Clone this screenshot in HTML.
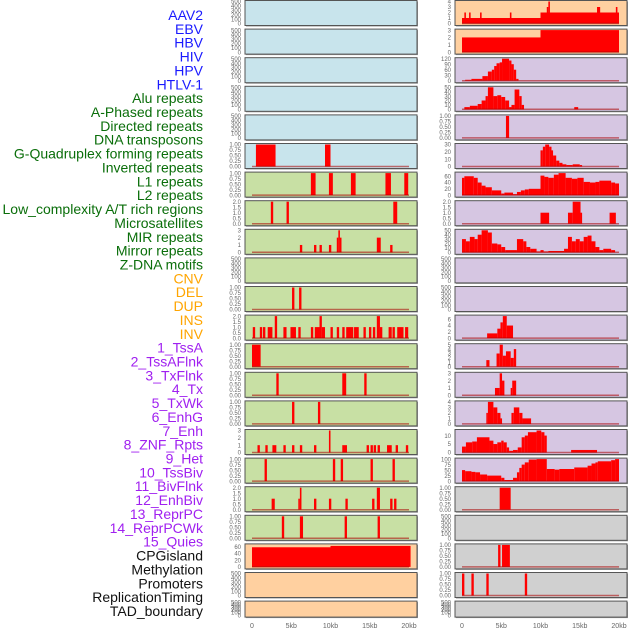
<!DOCTYPE html>
<html><head><meta charset="utf-8"><style>
html,body{margin:0;padding:0;background:#fff}
svg{display:block}
text{font-family:"Liberation Sans",sans-serif}
</style></head><body>
<svg id="chart" width="630" height="630" xmlns="http://www.w3.org/2000/svg"></svg>
<script>
// ---- labels ----
const trackLabels = ["AAV2","EBV","HBV","HIV","HPV","HTLV-1","Alu repeats","A-Phased repeats","Directed repeats","DNA transposons","G-Quadruplex forming repeats","Inverted repeats","L1 repeats","L2 repeats","Low_complexity A/T rich regions","Microsatellites","MIR repeats","Mirror repeats","Z-DNA motifs","CNV","DEL","DUP","INS","INV","1_TssA","2_TssAFlnk","3_TxFlnk","4_Tx","5_TxWk","6_EnhG","7_Enh","8_ZNF_Rpts","9_Het","10_TssBiv","11_BivFlnk","12_EnhBiv","13_ReprPC","14_ReprPCWk","15_Quies","CPGisland","Methylation","Promoters","ReplicationTiming","TAD_boundary"];
const labelColors = ["#1a1aff","#1a1aff","#1a1aff","#1a1aff","#1a1aff","#1a1aff","#0a6e0a","#0a6e0a","#0a6e0a","#0a6e0a","#0a6e0a","#0a6e0a","#0a6e0a","#0a6e0a","#0a6e0a","#0a6e0a","#0a6e0a","#0a6e0a","#0a6e0a","#ffa500","#ffa500","#ffa500","#ffa500","#ffa500","#a020f0","#a020f0","#a020f0","#a020f0","#a020f0","#a020f0","#a020f0","#a020f0","#a020f0","#a020f0","#a020f0","#a020f0","#a020f0","#a020f0","#a020f0","#111","#111","#111","#111","#111"];
const xTickValues = [0,5,10,15,20];
const xTickLabels = ["0","5kb","10kb","15kb","20kb"];

// ---- tick sets ----
const tEmpty = [0,100,200,300,400,500];
const tUnit = [0,0.25,0.5,0.75,1];
const tUnitLbl = ["0.00","0.25","0.50","0.75","1.00"];
const tTwo = [0,0.5,1,1.5,2];
const tTwoLbl = ["0.0","0.5","1.0","1.5","2.0"];

// ---- data segments [startKb, endKb, value] ----
// left column
const L5 = [[0.5,3.0,1],[9.3,10.0,1]];
const L6 = [[7.5,8.1,1],[9.8,10.3,1],[12.6,13.2,1],[17.0,17.7,1],[19.4,19.9,1]];
const L7 = [[2.4,2.7,2],[4.4,4.7,2],[18.0,18.5,2]];
const L8 = [[6.1,6.4,1],[7.9,8.2,1],[8.6,8.9,1],[9.8,10.1,1],[10.8,11.0,2],[11.0,11.2,3],[11.2,11.4,2],[15.9,16.4,2],[17.6,17.9,1]];
const L10 = [[5.1,5.4,1],[6.0,6.3,1]];
const L11 = [[0.1,0.4,1],[1.0,1.3,1],[1.4,1.7,1],[2.0,2.6,1],[2.9,3.2,2],[4.0,4.4,1],[4.9,5.6,1],[5.9,6.2,1],[7.5,7.8,1],[8.0,8.6,1],[8.6,8.9,2],[8.9,9.3,1],[10.0,10.3,1],[10.8,11.1,1],[11.5,11.8,1],[12.0,12.9,1],[13.0,13.6,1],[14.2,14.5,1],[14.9,15.2,1],[15.4,15.7,1],[15.9,16.3,2],[16.3,16.6,1],[17.4,17.8,1],[17.9,18.2,1],[18.5,19.3,1],[19.5,19.9,1]];
const L12 = [[0.0,1.1,1]];
const L13 = [[3.1,3.4,1],[11.5,12.0,1],[14.3,14.6,1]];
const L14 = [[5.1,5.4,1],[8.4,8.7,1]];
const L15 = [[0.7,1.0,1],[1.7,2.0,1],[2.6,3.1,1],[4.0,4.3,1],[5.1,5.4,1],[6.1,6.4,1],[7.9,8.2,1],[9.8,10.0,3],[11.5,12.1,1],[14.6,14.9,1],[15.1,15.4,1],[15.5,15.8,1],[16.0,16.3,1],[17.2,17.8,1],[18.3,18.6,1],[19.6,19.9,1]];
const L16 = [[1.6,1.9,1],[10.3,10.6,1],[11.3,11.6,1],[15.1,15.4,1],[17.9,18.2,1]];
const L17 = [[2.5,2.9,1],[5.9,6.1,1],[6.1,6.3,2],[7.9,8.2,1],[9.8,10.1,1],[11.9,12.2,1],[15.3,15.6,1],[15.9,16.3,2],[17.6,17.9,1],[18.1,18.4,1]];
const L18 = [[3.8,4.1,1],[6.1,6.5,1],[11.8,12.1,1],[16.0,16.3,1]];
const L19 = [[0.0,10.0,58],[10.0,20.2,62]];
// right column
const R0 = [[0,10,1],[0.3,0.5,2],[0.9,1.1,2],[2.3,2.5,2],[6.1,6.3,2],[10,20,2],[10.8,11.0,3],[11.0,11.2,4],[17.2,17.6,3],[19.6,19.8,3]];
const R1 = [[0,10,2],[10,20,3]];
const R2 = [[0.4,1.2,5],[1.2,2.6,10],[2.6,3.3,25],[3.3,3.8,50],[3.8,4.1,60],[4.1,4.4,80],[4.4,4.8,95],[4.8,5.1,100],[5.1,6.0,120],[6.0,6.3,110],[6.3,6.6,90],[6.6,6.9,60],[6.9,7.2,10]];
const R3 = [[0.3,1.0,5],[1.0,2.0,8],[2.0,2.5,12],[2.5,3.0,20],[3.0,3.3,30],[3.3,4.0,50],[4.0,4.5,30],[4.5,5.0,32],[5.0,5.5,28],[5.5,6.0,20],[6.0,6.3,5],[6.3,6.7,10],[6.7,7.3,45],[7.3,7.6,30],[7.6,7.9,10],[14.3,14.8,5]];
const R4 = [[5.6,6.0,1]];
const R5 = [[10.0,10.3,22],[10.3,10.6,27],[10.6,11.1,30],[11.1,11.4,27],[11.4,11.6,22],[11.6,12.0,15],[12.0,12.4,8],[12.4,12.8,5],[12.8,13.3,3],[13.3,14.1,2],[14.1,15.0,3],[15.0,15.3,2]];
const R6 = [[0,0.3,55],[0.3,1.5,60],[1.5,2.0,55],[2.0,2.5,40],[2.5,3.0,30],[3.0,3.8,25],[3.8,5.0,15],[5.0,5.4,5],[5.4,6.5,8],[6.5,7.0,3],[7.0,7.5,10],[7.5,8.0,15],[8.0,8.5,18],[8.5,10.0,20],[10.0,10.5,62],[10.5,11.0,58],[11.0,11.7,55],[11.7,12.3,65],[12.3,13.2,70],[13.2,14.0,55],[14.0,14.7,52],[14.7,15.5,55],[15.5,16.3,42],[16.3,17.0,40],[17.0,17.5,42],[17.5,19.0,46],[19.0,19.5,40],[19.5,20.0,37]];
const R7 = [[10.0,11.1,1],[13.5,14.1,1],[14.1,15.1,2],[15.1,15.3,1],[18.8,19.6,1]];
const R8 = [[0,0.5,30],[0.5,1.0,25],[1.0,1.6,35],[1.6,2.0,30],[2.0,2.5,40],[2.5,3.3,50],[3.3,3.8,45],[3.8,4.5,20],[4.5,5.0,18],[5.0,5.5,12],[5.5,7.0,5],[7.0,7.8,30],[7.8,8.2,25],[8.2,8.7,12],[8.7,9.5,8],[9.5,10.0,2],[10.0,10.4,5],[10.4,11.0,2],[11.0,13.0,3],[13.0,13.5,8],[13.5,14.0,35],[14.0,14.5,25],[14.5,15.0,30],[15.0,15.5,25],[15.5,16.0,35],[16.0,16.5,38],[16.5,17.0,25],[17.0,17.5,12],[17.5,18.0,5],[18.0,19.0,8],[19.0,19.5,5]];
const R11 = [[3.2,4.5,1.5],[4.5,4.9,3],[4.9,5.2,5],[5.2,5.7,7],[5.7,6.5,4]];
const R12 = [[3.1,3.5,1.5],[4.4,4.8,3],[4.8,5.2,5],[5.2,5.6,2.5],[5.6,6.2,3.5],[6.2,6.6,2],[6.6,6.9,4]];
const R13 = [[4.2,4.8,1],[4.8,5.1,3],[5.1,5.4,2],[6.2,6.4,1],[6.4,6.9,2]];
const R14 = [[3.1,3.3,2],[3.3,4.0,4],[4.0,4.5,3],[4.5,4.9,2],[4.9,5.1,1],[6.3,6.6,2],[6.6,7.3,3],[7.3,7.7,2],[7.7,8.8,1]];
const R15 = [[0,0.5,3.5],[0.5,1.3,6],[1.3,1.9,6.5],[1.9,3.5,9],[3.5,4.0,7],[4.0,4.5,5],[4.5,5.0,6],[5.0,5.3,7],[5.3,5.7,6],[5.7,6.0,3],[6.0,6.5,1],[6.5,7.1,1.5],[7.1,7.6,3],[7.6,8.0,9],[8.0,8.4,10],[8.4,9.5,12],[9.5,10.1,13],[10.1,10.5,12],[10.5,10.8,10],[13.9,17.2,1.5]];
const R16 = [[0,0.4,50],[0.4,1.2,45],[1.2,1.7,42],[1.7,2.3,40],[2.3,3.2,30],[3.2,5.0,25],[5.0,5.4,15],[5.4,6.5,5],[6.5,7.0,15],[7.0,7.3,40],[7.3,7.6,60],[7.6,8.0,75],[8.0,8.5,85],[8.5,9.5,98],[9.5,10.8,100],[10.8,11.8,55],[11.8,12.4,52],[12.4,14.3,55],[14.3,16.0,62],[16.0,16.5,70],[16.5,17.0,80],[17.0,17.3,85],[17.3,19.0,90],[19.0,19.5,95],[19.5,20.0,100]];
const R17 = [[4.8,6.2,1]];
const R19 = [[4.6,4.9,1],[5.1,6.1,1]];
const R20 = [[0.0,0.3,1],[1.2,1.5,1],[3.1,3.4,1],[8.0,8.3,1]];

const BLUE="#c8e4ec",GREEN="#c8e0a4",ORANGE="#ffd0a0",PURPLE="#d6c6e2",GREY="#d0d0d0";
// panel list: [col,row,bg,ymax,ticks,tickLabels,segs,name]
const panels = [];
const leftData = [null,null,null,null,null,L5,L6,L7,L8,null,L10,L11,L12,L13,L14,L15,L16,L17,L18,L19,null,null];
const leftBg = [BLUE,BLUE,BLUE,BLUE,BLUE,BLUE,GREEN,GREEN,GREEN,GREEN,GREEN,GREEN,GREEN,GREEN,GREEN,GREEN,GREEN,GREEN,GREEN,ORANGE,ORANGE,ORANGE];
const leftMax = [500,500,500,500,500,1,1,2,3,500,1,2,1,1,1,3,1,2,1,65,500,500];
const rightData = [R0,R1,R2,R3,R4,R5,R6,R7,R8,null,null,R11,R12,R13,R14,R15,R16,R17,null,R19,R20,null];
const rightBg = [ORANGE,ORANGE,PURPLE,PURPLE,PURPLE,PURPLE,PURPLE,PURPLE,PURPLE,PURPLE,PURPLE,PURPLE,PURPLE,PURPLE,PURPLE,PURPLE,PURPLE,GREY,GREY,GREY,GREY,GREY];
const rightMax = [4,3,120,50,1,30,70,2,50,500,500,7,5,3,4,13,100,1,500,1,1,500];

function ticksFor(m){
  if(m===500) return [tEmpty,tEmpty.map(String)];
  if(m===1) return [tUnit,tUnitLbl];
  if(m===2) return [tTwo,tTwoLbl];
  if(m===3) return [[0,1,2,3],["0","1","2","3"]];
  if(m===4) return [[0,1,2,3,4],["0","1","2","3","4"]];
  if(m===5) return [[0,1,2,3,4,5],["0","1","2","3","4","5"]];
  if(m===7) return [[0,2,4,6],["0","2","4","6"]];
  if(m===13) return [[0,5,10],["0","5","10"]];
  if(m===120) return [[0,30,60,90,120],["0","30","60","90","120"]];
  if(m===50) return [[0,10,20,30,40,50],["0","10","20","30","40","50"]];
  if(m===30) return [[0,10,20,30],["0","10","20","30"]];
  if(m===70) return [[0,20,40,60],["0","20","40","60"]];
  if(m===65) return [[0,20,40,60],["0","20","40","60"]];
  if(m===100) return [[0,25,50,75,100],["0","25","50","75","100"]];
  return [[0,m],["0",String(m)]];
}

const NS="http://www.w3.org/2000/svg";
const svg=document.getElementById('chart');
function mk(tag,attrs,parent){const e=document.createElementNS(NS,tag);for(const k in attrs)e.setAttribute(k,attrs[k]);(parent||svg).appendChild(e);return e;}

const KB=7.85;
function xScale(col,kb){return (col===0?252:462)+kb*KB;}
function rowTop(r){return r*28.6+0.5;}
function rowH(r){return r===21?16:25;}

// labels
trackLabels.forEach((t,i)=>{
  const e=mk('text',{x:203,y:15+i*13.86+5,'text-anchor':'end','font-size':'14',fill:labelColors[i]});
  e.textContent=t;
  
  
});

function drawPanel(col,r,bg,ymax,segs){
  const top=rowTop(r),h=rowH(r);
  const px=col===0?245:455,pw=172;
  const g=mk('g',{});
  
  
  mk('rect',{x:px+1,y:top+1,width:pw,height:h,fill:'#999'},g);
  mk('rect',{x:px,y:top,width:pw,height:h,fill:bg,stroke:'#555','stroke-width':1},g);
  const y0=top+h-2,y1=top+1;
  const ys=v=>y0-(v/ymax)*(y0-y1);
  const [tv,tl]=ticksFor(ymax);
  tv.forEach((v,i)=>{
    const t=mk('text',{x:px-4,y:ys(v)+2.2,'text-anchor':'end','font-size':'6',fill:'#666'},g);
    t.textContent=tl[i];
    
    
  });
  if(segs){
    segs.forEach(s=>{
      const x0=xScale(col,s[0]),x1=xScale(col,s[1]);
      const b=mk('rect',{x:x0,y:ys(s[2]),width:Math.max(1.5,x1-x0),height:y0-ys(s[2]),fill:'#ff0000'},g);
      
      
    });
    const bl=mk('line',{x1:xScale(col,0),x2:xScale(col,20),y1:y0,y2:y0,stroke:'rgba(170,0,0,0.55)','stroke-width':1.5},g);
    
    
  }
}
for(let r=0;r<22;r++){
  drawPanel(0,r,leftBg[r],leftMax[r],leftData[r]);
  drawPanel(1,r,rightBg[r],rightMax[r],rightData[r]);
}
// x axes
[0,1].forEach(col=>{
  xTickValues.forEach((v,i)=>{
    const t=mk('text',{x:xScale(col,v),y:628,'text-anchor':'middle','font-size':'7',fill:'#666'});
    t.textContent=xTickLabels[i];
    
    
  });
});
</script>
</body></html>
